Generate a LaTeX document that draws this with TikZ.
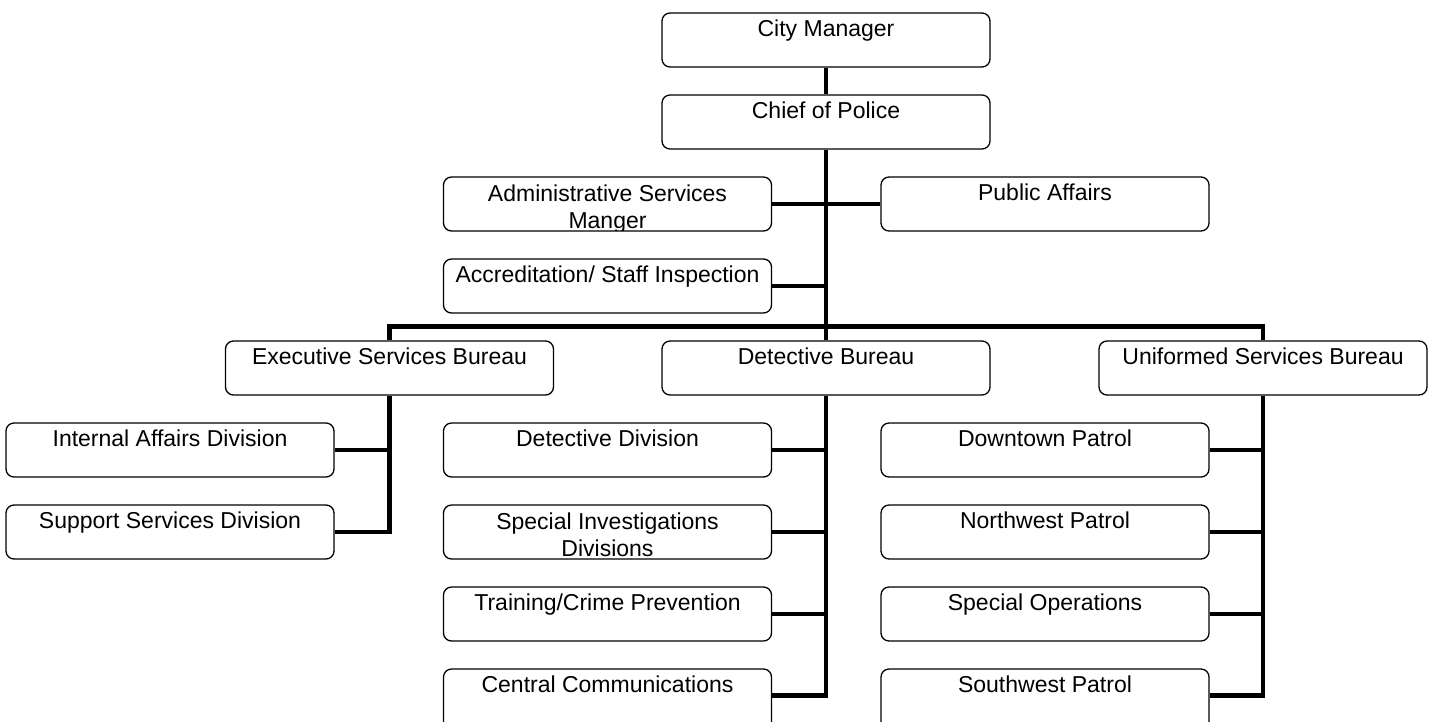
\documentclass[tikz,border=0pt]{standalone}
\usepackage{fontspec}
\setmainfont{Liberation Sans}
\begin{document}
\begin{tikzpicture}[x=1pt,y=-1pt,
  box/.style={draw=black, line width=1.3pt, rounded corners=8pt, minimum width=328pt, minimum height=54pt, inner sep=0pt, fill=white},
  tallbox/.style={box, minimum height=80pt},
  txt/.style={font=\fontsize{23}{27}\selectfont, inner sep=0pt, anchor=base},
  txttwo/.style={font=\fontsize{23}{27}\selectfont, inner sep=0pt, anchor=north, align=center},
  conn/.style={line width=4.5pt}]
\fill[white] (0,0) rectangle (1434,721);
\useasboundingbox (0,0) rectangle (1434,721);
% boxes
\node[box] (cm) at (826,40) {};
\node[box] (chief) at (826,122) {};
\node[box] (adm) at (607.5,204) {};
\node[box] (pub) at (1045,204) {};
\node[box] (acc) at (607.5,286) {};
\node[box] (esb) at (389.5,368) {};
\node[box] (db) at (826,368) {};
\node[box] (usb) at (1263,368) {};
\node[box] (iad) at (170,450) {};
\node[box] (ssd) at (170,532) {};
\node[box] (dd) at (607.5,450) {};
\node[box] (sid) at (607.5,532) {};
\node[box] (tcp) at (607.5,614) {};
\node[tallbox] (cc) at (607.5,709) {};
\node[box] (dp) at (1045,450) {};
\node[box] (np) at (1045,532) {};
\node[box] (so) at (1045,614) {};
\node[tallbox] (sp) at (1045,709) {};
\coordinate (cce) at ([yshift=-27pt]cc.north east);
\coordinate (spw) at ([yshift=-27pt]sp.north east);
% texts
\node[txt] (cmt) at ([yshift=-24.5pt]cm.north) {City Manager};
\node[txt] (chieft) at ([yshift=-24.5pt]chief.north) {Chief of Police};
\begin{scope}
\clip ([xshift=1pt,yshift=-1pt]adm.north west) rectangle ([xshift=-1pt,yshift=1pt]adm.south east);
\node[txttwo] (admt) at ([yshift=-8pt]adm.north) {Administrative Services\\Manger};
\end{scope}
\node[txt] (pubt) at ([yshift=-24.5pt]pub.north) {Public Affairs};
\node[txt] (acct) at ([yshift=-24.5pt]acc.north) {Accreditation/ Staff Inspection};
\node[txt] (esbt) at ([yshift=-24.5pt]esb.north) {Executive Services Bureau};
\node[txt] (dbt) at ([yshift=-24.5pt]db.north) {Detective Bureau};
\node[txt] (usbt) at ([yshift=-24.5pt]usb.north) {Uniformed Services Bureau};
\node[txt] (iadt) at ([yshift=-24.5pt]iad.north) {Internal Affairs Division};
\node[txt] (ssdt) at ([yshift=-24.5pt]ssd.north) {Support Services Division};
\node[txt] (ddt) at ([yshift=-24.5pt]dd.north) {Detective Division};
\node[txttwo] (sidt) at ([yshift=-8pt]sid.north) {Special Investigations\\Divisions};
\node[txt] (tcpt) at ([yshift=-24.5pt]tcp.north) {Training/Crime Prevention};
\node[txt] (cct) at ([yshift=-24.5pt]cc.north) {Central Communications};
\node[txt] (dpt) at ([yshift=-24.5pt]dp.north) {Downtown Patrol};
\node[txt] (npt) at ([yshift=-24.5pt]np.north) {Northwest Patrol};
\node[txt] (sot) at ([yshift=-24.5pt]so.north) {Special Operations};
\node[txt] (spt) at ([yshift=-24.5pt]sp.north) {Southwest Patrol};
% connectors
\draw[conn] (cm.south) -- (chief.north);
\draw[conn] (chief.south) -- (db.north);
\draw[conn] (adm.east) -- (pub.west);
\draw[conn] (acc.east) -- (acc.east -| chief.south);
\draw[conn] (esb.north) -- ++(0,-14) -| (usb.north);
\draw[conn] (esb.south) |- (ssd.east);
\draw[conn] (iad.east) -- (iad.east -| esb.south);
\draw[conn] (db.south) |- (cce);
\draw[conn] (dd.east) -- (dd.east -| db.south);
\draw[conn] (sid.east) -- (sid.east -| db.south);
\draw[conn] (tcp.east) -- (tcp.east -| db.south);
\draw[conn] (usb.south) |- (spw);
\draw[conn] (dp.east) -- (dp.east -| usb.south);
\draw[conn] (np.east) -- (np.east -| usb.south);
\draw[conn] (so.east) -- (so.east -| usb.south);
\end{tikzpicture}
\end{document}
